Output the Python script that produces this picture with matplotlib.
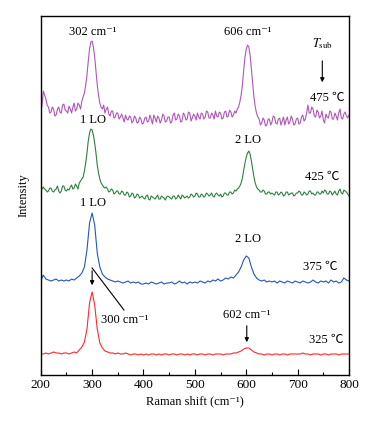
import numpy as np
import matplotlib
matplotlib.use("Agg")
from matplotlib import pyplot as plt

plt.rcParams['font.family'] = ['Liberation Serif', 'DejaVu Serif', 'DejaVu Sans']
plt.rcParams['mathtext.fontset'] = 'stix'

# Raman shift grids (cm-1)
shift = np.arange(200, 801, 5)          # 325 / 375 C traces
shift_fine = np.arange(200, 800.1, 2.5)  # 425 / 475 C traces (noisier)

# offset intensities (arb. units)
red_325 = [21, 21, 22, 21, 22, 23, 22, 22, 21, 22,
           22, 21, 22, 23, 22, 25, 28, 33, 46, 72,
           83, 70, 46, 32, 27, 24, 23, 22, 22, 21,
           22, 21, 21, 22, 21, 20, 21, 21, 20, 21,
           20, 21, 20, 21, 21, 20, 21, 20, 21, 21,
           20, 21, 21, 20, 21, 21, 20, 21, 20, 21,
           21, 20, 21, 21, 20, 21, 21, 20, 21, 21,
           21, 20, 21, 21, 21, 22, 22, 23, 24, 26,
           27, 27, 25, 23, 22, 21, 21, 20, 21, 21,
           20, 21, 21, 20, 21, 21, 20, 21, 21, 21,
           21, 21, 22, 21, 21, 20, 21, 21, 21, 20,
           21, 21, 20, 21, 21, 21, 20, 21, 21, 21,
           21]

blue_375 = [94, 100, 96, 95, 94, 95, 96, 94, 95, 94,
            95, 94, 96, 95, 97, 99, 102, 108, 125, 152,
            162, 150, 122, 108, 101, 98, 96, 95, 94, 93,
            94, 93, 92, 93, 94, 92, 93, 92, 93, 91,
            91, 92, 91, 93, 92, 91, 92, 93, 91, 92,
            92, 93, 91, 92, 94, 92, 93, 91, 93, 92,
            93, 92, 94, 93, 92, 94, 93, 95, 94, 96,
            94, 95, 97, 96, 98, 97, 100, 103, 108, 115,
            119, 117, 108, 101, 97, 95, 94, 95, 93, 94,
            93, 94, 92, 94, 93, 92, 94, 93, 92, 94,
            93, 92, 94, 93, 92, 93, 95, 93, 92, 94,
            93, 94, 92, 95, 93, 94, 92, 93, 97, 95,
            94]

green_425 = [183, 186, 188, 186, 185, 183, 184, 187, 187, 184, 183, 185, 186, 189, 184, 182, 184, 189, 189, 185,
             184, 186, 185, 188, 190, 186, 187, 191, 189, 186, 192, 194, 196, 198, 204, 212, 222, 234, 242, 246,
             245, 240, 232, 222, 210, 202, 196, 192, 190, 188, 187, 188, 186, 183, 184, 186, 185, 181, 182, 184,
             184, 181, 181, 184, 183, 180, 180, 183, 182, 178, 179, 182, 181, 177, 178, 181, 180, 177, 178, 179,
             177, 176, 179, 180, 176, 175, 179, 178, 177, 176, 178, 180, 176, 176, 179, 178, 177, 175, 178, 179,
             178, 177, 176, 179, 179, 176, 177, 180, 178, 176, 180, 179, 177, 178, 179, 177, 178, 181, 180, 178,
             179, 182, 181, 178, 178, 181, 180, 178, 179, 182, 181, 179, 180, 182, 179, 178, 181, 182, 180, 179,
             181, 178, 179, 182, 182, 180, 180, 183, 183, 181, 182, 185, 184, 186, 187, 189, 192, 197, 205, 212,
             218, 222, 224, 221, 214, 206, 198, 192, 188, 186, 185, 183, 183, 185, 184, 181, 181, 183, 183, 181,
             182, 181, 180, 183, 183, 180, 181, 183, 182, 179, 180, 183, 183, 180, 181, 182, 182, 179, 180, 182,
             182, 184, 183, 180, 180, 183, 182, 180, 181, 184, 184, 181, 182, 180, 180, 183, 183, 181, 181, 184,
             182, 185, 184, 181, 181, 184, 183, 180, 182, 184, 181, 180, 184, 186, 182, 181, 185, 184, 183, 181,
             179]

purple_475 = [262, 270, 284, 280, 276, 270, 268, 262, 263, 268, 266, 259, 260, 266, 268, 263, 262, 270, 271, 265,
              264, 262, 269, 266, 262, 268, 272, 264, 266, 272, 270, 266, 274, 278, 282, 290, 300, 314, 326, 333,
              334, 328, 318, 304, 290, 280, 272, 268, 266, 270, 262, 266, 268, 261, 259, 264, 264, 257, 258, 262,
              262, 256, 258, 261, 257, 253, 260, 256, 255, 259, 258, 252, 254, 259, 257, 252, 253, 258, 256, 251,
              252, 257, 258, 253, 254, 260, 256, 251, 260, 257, 253, 259, 257, 252, 255, 261, 259, 253, 254, 258,
              258, 252, 253, 260, 262, 255, 256, 261, 259, 253, 254, 262, 260, 255, 256, 263, 262, 254, 257, 261,
              259, 255, 262, 258, 256, 262, 261, 256, 258, 264, 263, 257, 257, 262, 260, 256, 264, 259, 258, 263,
              262, 256, 257, 263, 264, 258, 259, 265, 263, 258, 260, 264, 262, 266, 268, 273, 280, 290, 305, 318,
              326, 330, 328, 320, 306, 292, 278, 268, 262, 258, 256, 250, 252, 257, 255, 249, 250, 256, 256, 250,
              253, 259, 258, 252, 251, 256, 257, 250, 254, 258, 250, 255, 258, 251, 253, 259, 256, 250, 251, 256,
              257, 251, 252, 258, 260, 254, 256, 262, 270, 262, 262, 268, 266, 259, 258, 265, 263, 257, 259, 264,
              255, 252, 261, 258, 257, 264, 263, 256, 256, 262, 259, 255, 262, 266, 257, 256, 261, 263, 259, 257,
              260]

fig = plt.figure(figsize=(3.67, 4.23), dpi=100)
ax = fig.add_axes([0.111, 0.1135, 0.840, 0.8485])

ax.plot(shift, red_325, color='#ff2a2a', lw=0.8)
ax.plot(shift, blue_375, color='#2357b8', lw=0.8)
ax.plot(shift_fine, green_425, color='#2e8040', lw=0.8)
ax.plot(shift_fine, purple_475, color='#ad58b8', lw=0.8)

ax.set_xlim(200, 800)
ax.set_ylim(0, 359)
ax.set_xticks([200, 300, 400, 500, 600, 700, 800])
ax.set_xticks([250, 350, 450, 550, 650, 750], minor=True)
ax.set_yticks([])
ax.tick_params(axis='x', which='major', direction='in', length=4, width=0.8, labelsize=9.5, pad=3)
ax.tick_params(axis='x', which='minor', direction='in', length=2, width=0.8)
for s in ax.spines.values():
    s.set_linewidth(1.0)

ax.set_xlabel('Raman shift (cm⁻¹)', fontsize=9, labelpad=3)
ax.set_ylabel('Intensity', fontsize=9, labelpad=8)

fs = 9
deg = ['Liberation Serif', 'Noto Sans CJK SC', 'DejaVu Sans']
ax.text(302, 343, '302 cm⁻¹', ha='center', va='center', fontsize=fs)
ax.text(603, 343, '606 cm⁻¹', ha='center', va='center', fontsize=fs)
ax.text(749, 331, r'$T_{\rm sub}$', ha='center', va='center', fontsize=fs)
ax.annotate('', xy=(748, 290), xytext=(748, 317),
            arrowprops=dict(arrowstyle='-|>', color='black', lw=0.8, mutation_scale=6))
ax.text(792, 277, '475 ℃', ha='right', va='center', fontsize=fs, family=deg)

ax.text(302, 255, '1 LO', ha='center', va='center', fontsize=fs)
ax.text(603, 235, '2 LO', ha='center', va='center', fontsize=fs)
ax.text(782, 198, '425 ℃', ha='right', va='center', fontsize=fs, family=deg)

ax.text(302, 172, '1 LO', ha='center', va='center', fontsize=fs)
ax.text(603, 136, '2 LO', ha='center', va='center', fontsize=fs)
ax.text(777, 108, '375 ℃', ha='right', va='center', fontsize=fs, family=deg)

ax.annotate('', xy=(300, 87), xytext=(300, 107),
            arrowprops=dict(arrowstyle='-|>', color='black', lw=0.8, mutation_scale=6))
ax.plot([300, 362], [107, 65], color='black', lw=0.8)
ax.text(364, 55, '300 cm⁻¹', ha='center', va='center', fontsize=fs)

ax.text(601, 60, '602 cm⁻¹', ha='center', va='center', fontsize=fs)
ax.annotate('', xy=(601, 30), xytext=(601, 52),
            arrowprops=dict(arrowstyle='-|>', color='black', lw=0.8, mutation_scale=6))
ax.text(789, 35, '325 ℃', ha='right', va='center', fontsize=fs, family=deg)

fig.savefig('out.png', dpi=100)
